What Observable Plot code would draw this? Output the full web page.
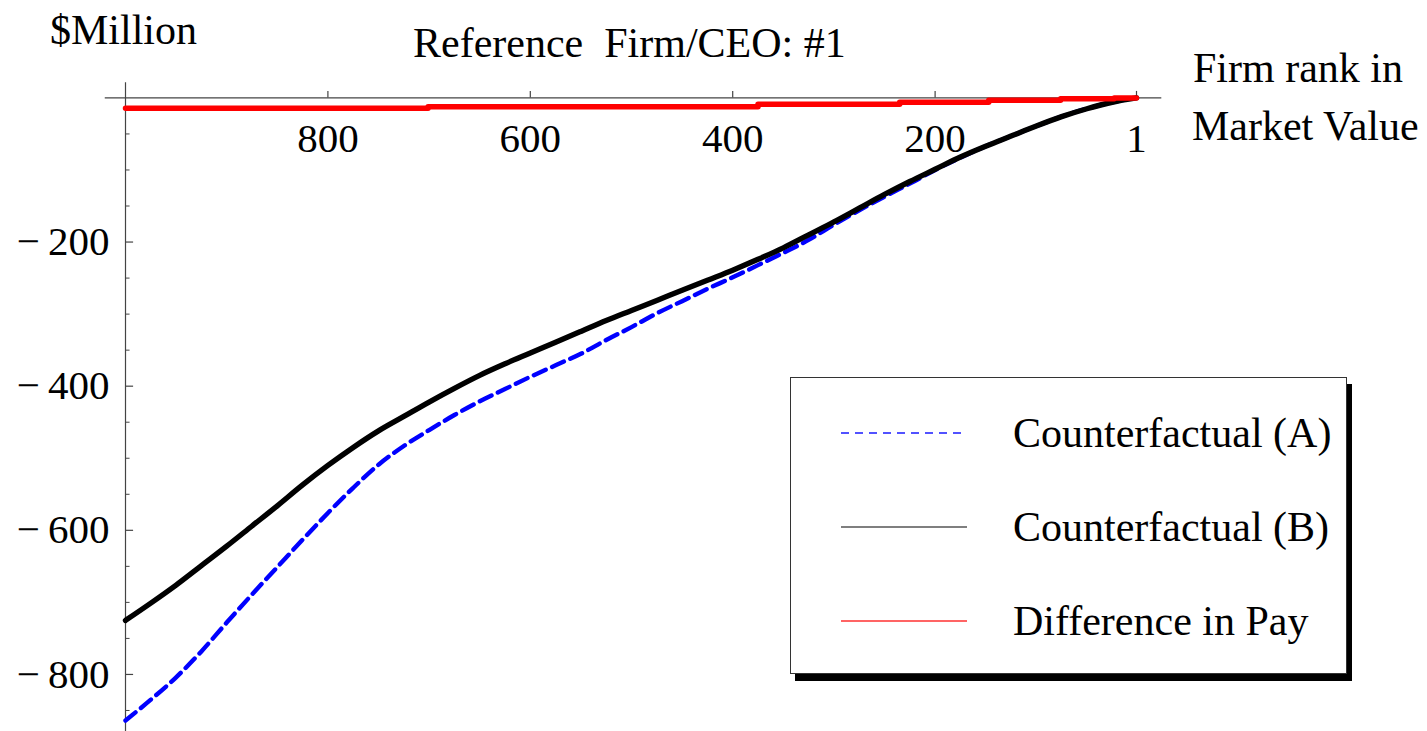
<!DOCTYPE html>
<html>
<head>
<meta charset="utf-8">
<script src="https://cdn.jsdelivr.net/npm/d3@7"></script>
<script src="https://cdn.jsdelivr.net/npm/@observablehq/plot@0.6"></script>
<style>
  html, body { margin: 0; padding: 0; background: #fff; }
  #wrap { position: relative; width: 1427px; height: 731px; overflow: hidden;
          font-family: "Liberation Serif", "Times New Roman", serif; color: #000; }
  .lbl { position: absolute; font-size: 42px; line-height: 42px; white-space: pre; }
  #legend { position: absolute; left: 790px; top: 377px; width: 557px; height: 297px;
            box-sizing: border-box; border: 1px solid #333; background: #fff;
            box-shadow: 5px 7px 0 #000; }
  #legend svg { position: absolute; left: 50px; overflow: visible; }
</style>
</head>
<body>
<div id="wrap"></div>
<script>
// Firm rank in market value (1 = largest firm)
const rank = [1000, 975, 950, 925, 900, 875, 850, 825, 800, 775, 750, 725, 700, 675, 650,
              625, 600, 575, 550, 525, 500, 475, 450, 425, 400, 375, 350, 325, 300, 275,
              250, 225, 200, 175, 150, 125, 100, 75, 50, 25, 1];

// Counterfactual (A), $Million
const counterfactualA = [-864, -835, -804, -768, -728, -689, -651, -613, -576, -541, -509,
                         -483, -461, -440, -421, -404, -387, -371, -355, -336, -318, -299,
                         -282, -265, -249, -232, -215, -197, -176, -156, -137, -119, -100,
                         -83, -67, -53, -39, -26, -15, -6, 0];

// Counterfactual (B), $Million
const counterfactualB = [-725, -701, -676, -649, -622, -594, -566, -537, -510, -485, -462,
                         -442, -422, -403, -385, -369, -354, -339, -324, -309, -295, -281,
                         -267, -253, -239, -224, -208, -190, -172, -153, -134, -116, -99,
                         -82, -67, -53, -39, -26, -15, -6, 0];

// Difference in pay: a step function of rank, $Million
const payStepRank = [1000, 701, 375, 235, 147, 76, 23, 1];
const payDifference = [-14.3, -12.2, -8.7, -6.0, -3.2, -1.2, 0, 0];

// Axis ticks and labels
const xTicks = [800, 600, 400, 200, 1];
const yMajorTicks = [-200, -400, -600, -800];
const yMinorTicks = [-50, -100, -150, -250, -300, -350, -450, -500, -550, -650, -700, -750, -850];
const yTickLabel = v => "\u2212\u2009" + Math.abs(v);

const seriesA = rank.map((r, i) => ({rank: r, value: counterfactualA[i]}));
const seriesB = rank.map((r, i) => ({rank: r, value: counterfactualB[i]}));
const seriesPay = payStepRank.map((r, i) => ({rank: r, value: payDifference[i]}));

const axisColor = "#444";

const chart = Plot.plot({
  width: 1427,
  height: 731,
  marginLeft: 125,
  marginRight: 291,
  marginTop: 83,
  marginBottom: 3,
  x: {domain: [1000, 1], axis: null},
  y: {domain: [-875, 20], axis: null},
  style: {fontFamily: "Liberation Serif, Times New Roman, serif", fontSize: "41px",
          background: "transparent", color: "#000", overflow: "visible"},
  marks: [
    // axes crossing at the left end of the rank range and at zero
    Plot.ruleY([0], {x1: 1020, x2: -24, stroke: axisColor, strokeWidth: 1.2}),
    Plot.ruleX([1000], {y1: 21, y2: -880, stroke: axisColor, strokeWidth: 1.2}),
    Plot.ruleX(xTicks, {x: d => d, y1: 0, y2: 9, stroke: axisColor, strokeWidth: 1.2}),
    Plot.ruleY(yMajorTicks, {y: d => d, x1: 1000, x2: 992, stroke: axisColor, strokeWidth: 1.2}),
    Plot.ruleY(yMinorTicks, {y: d => d, x1: 1000, x2: 995.5, stroke: axisColor, strokeWidth: 1}),
    Plot.text(xTicks, {x: d => d, y: 0, dy: 41, text: d => String(d), lineAnchor: "middle",
                       fontSize: 41, fill: "#000"}),
    Plot.text(yMajorTicks, {x: 1000, y: d => d, dx: -16, text: yTickLabel, textAnchor: "end",
                            lineAnchor: "middle", fontSize: 41, fill: "#000"}),
    // series
    Plot.line(seriesA, {x: "rank", y: "value", stroke: "#0000ff", strokeWidth: 4.4,
                        strokeDasharray: "13,7", curve: "monotone-x"}),
    Plot.line(seriesB, {x: "rank", y: "value", stroke: "#000", strokeWidth: 5.4,
                        strokeLinecap: "round", curve: "monotone-x"}),
    Plot.line(seriesPay, {x: "rank", y: "value", stroke: "#ff0000", strokeWidth: 5.5,
                          strokeLinecap: "round", curve: "step-after"})
  ]
});

const wrap = document.getElementById("wrap");
chart.style.position = "absolute";
chart.style.left = "0px";
chart.style.top = "0px";
wrap.appendChild(chart);

// Titles and axis captions (line-height 42px: baseline sits ~35px below the top)
const baselineOffset = 35;
function label(text, left, baseline) {
  const d = document.createElement("div");
  d.className = "lbl";
  d.textContent = text;
  d.style.left = left + "px";
  d.style.top = (baseline - baselineOffset) + "px";
  wrap.appendChild(d);
  return d;
}
label("$Million", 50, 44);
label("Reference\u00a0 Firm/CEO: #1", 413, 57);
label("Firm rank in", 1193, 82);
label("Market Value", 1192, 140);

// Legend
const legendItems = [
  {name: "Counterfactual (A)", color: "#1a1aff", dash: "8,6"},
  {name: "Counterfactual (B)", color: "#555", dash: null},
  {name: "Difference in Pay", color: "#ff3030", dash: null}
];
const legend = document.createElement("div");
legend.id = "legend";
wrap.appendChild(legend);
legendItems.forEach((item, i) => {
  const cy = 55 + i * 94;
  const ns = "http://www.w3.org/2000/svg";
  const svg = document.createElementNS(ns, "svg");
  svg.setAttribute("width", 126);
  svg.setAttribute("height", 10);
  svg.style.top = (cy - 5) + "px";
  const ln = document.createElementNS(ns, "line");
  ln.setAttribute("x1", 0); ln.setAttribute("x2", 126);
  ln.setAttribute("y1", 5); ln.setAttribute("y2", 5);
  ln.setAttribute("stroke", item.color);
  ln.setAttribute("stroke-width", 1.5);
  if (item.dash) ln.setAttribute("stroke-dasharray", item.dash);
  svg.appendChild(ln);
  legend.appendChild(svg);
  const t = document.createElement("div");
  t.className = "lbl";
  t.textContent = item.name;
  t.style.left = "222px";
  t.style.top = (cy + 14 - baselineOffset) + "px";
  legend.appendChild(t);
});
</script>
</body>
</html>
